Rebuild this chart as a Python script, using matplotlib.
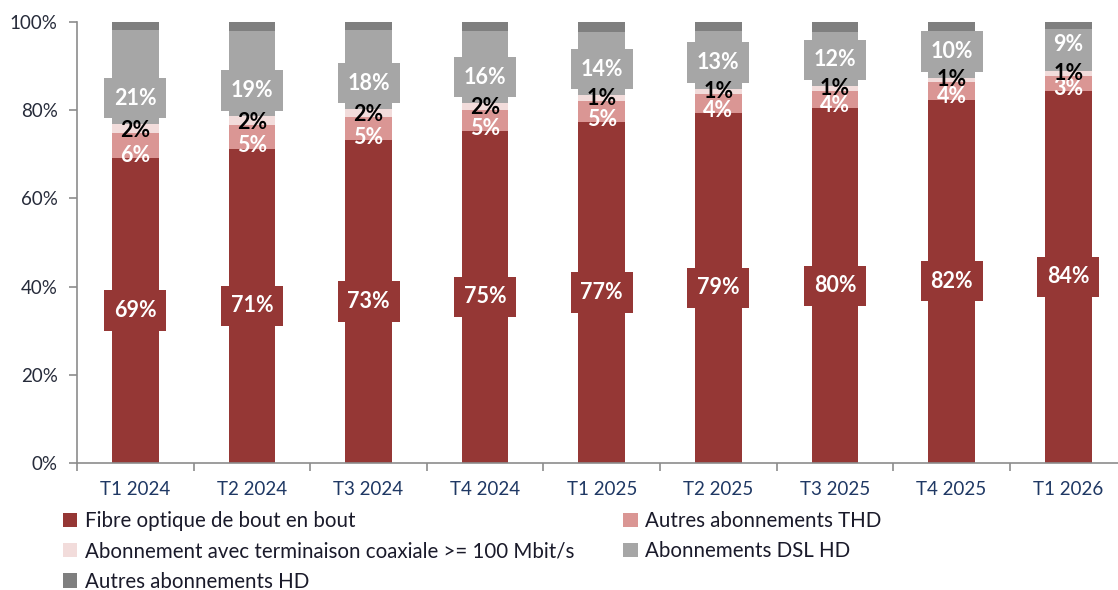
import matplotlib
matplotlib.use("Agg")
import matplotlib.pyplot as plt
import numpy as np

plt.rcParams['font.family'] = ['Lato', 'DejaVu Sans']

categories = ["T1 2024", "T2 2024", "T3 2024", "T4 2024", "T1 2025",
              "T2 2025", "T3 2025", "T4 2025", "T1 2026"]
fibre = [69.2, 71.3, 73.2, 75.3, 77.4, 79.4, 80.4, 82.4, 84.4]
autres_thd = [5.6, 5.3, 5.3, 4.8, 4.6, 4.2, 4.0, 3.9, 3.4]
coax = [2.0, 2.0, 1.7, 1.5, 1.4, 1.3, 1.1, 1.1, 1.2]
dsl = [21.3, 19.4, 18.0, 16.4, 14.4, 13.0, 12.3, 10.4, 9.4]
autres_hd = [1.9, 2.0, 1.8, 2.0, 2.2, 2.1, 2.2, 2.2, 1.6]
# DSL label drawn with a filled box (the last one has none in the source)
dsl_label_box = [True, True, True, True, True, True, True, True, False]

series_names = ["Fibre optique de bout en bout", "Autres abonnements THD",
                "Abonnement avec terminaison coaxiale >= 100 Mbit/s",
                "Abonnements DSL HD", "Autres abonnements HD"]
series_vals = [fibre, autres_thd, coax, dsl, autres_hd]
colors = ["#953735", "#DA9694", "#F2DCDB", "#A6A6A6", "#7F7F7F"]

W, H = 1118, 590
fig = plt.figure(figsize=(W / 100, H / 100), dpi=100)
ax = fig.add_axes([77 / W, (H - 463) / H, (1126.5 - 77) / W, (463 - 22) / H])

x = np.arange(len(categories))
bw = 0.40
lfs = 15.5
bottom = np.zeros(len(categories))
handles = []
for name, vals, col in zip(series_names, series_vals, colors):
    v = np.array(vals)
    b = ax.bar(x, v, bw, bottom=bottom, color=col, label=name, zorder=2)
    handles.append(b)
    for i in range(len(x)):
        lab = f"{v[i]:.0f}%"
        if name.startswith("Fibre"):
            ax.text(x[i], bottom[i] + v[i] / 2, lab, ha='center', va='center',
                    color='white', fontsize=lfs, fontweight='bold', zorder=4,
                    bbox=dict(boxstyle='square,pad=0.45', fc=col, ec='none'))
        elif name.startswith("Autres abonnements THD"):
            ax.text(x[i], bottom[i] + 0.6, lab, ha='center', va='center',
                    color='white', fontsize=lfs, fontweight='bold', zorder=5)
        elif name.startswith("Abonnement avec"):
            ax.text(x[i], bottom[i] + 0.6, lab, ha='center', va='center',
                    color='black', fontsize=lfs, fontweight='bold', zorder=6)
        elif name.startswith("Abonnements DSL"):
            bb = (dict(boxstyle='square,pad=0.45', fc=col, ec='none')
                  if dsl_label_box[i] else None)
            ax.text(x[i], bottom[i] + 5.9, lab, ha='center', va='center',
                    color='white', fontsize=lfs, fontweight='bold', zorder=4,
                    bbox=bb)
    bottom += v

ax.set_xlim(-0.5, len(categories) - 0.5)
ax.set_ylim(0, 100)
ax.set_yticks(np.arange(0, 101, 20))
ax.set_yticklabels([f"{t}%" for t in range(0, 101, 20)])
ax.set_xticks(x)
ax.set_xticklabels(categories)
ax.set_xticks(np.arange(-0.5, len(categories), 1.0), minor=True)

for s in ['top', 'right']:
    ax.spines[s].set_visible(False)
for s in ['left', 'bottom']:
    ax.spines[s].set_color('#8C8C8C')
    ax.spines[s].set_linewidth(1.2)

ax.tick_params(axis='y', length=6, width=1.2, color='#8C8C8C', pad=8,
               labelsize=13.5, labelcolor='#262B3A')
ax.tick_params(axis='x', which='major', length=0, pad=13,
               labelsize=13.5, labelcolor='#1F3864')
ax.tick_params(axis='x', which='minor', length=6, width=1.2, color='#8C8C8C')

order = [0, 2, 4, 1, 3]
leg = fig.legend([handles[i] for i in order], [series_names[i] for i in order],
                 loc='upper left', bbox_to_anchor=(63 / W, 1 - 511 / H),
                 ncol=2, frameon=False, fontsize=14.8, handlelength=0.7,
                 handleheight=0.7, handletextpad=0.35, columnspacing=2.4,
                 labelspacing=0.5, borderaxespad=0, borderpad=0)
for t in leg.get_texts():
    t.set_color('#1A1A2A')

fig.savefig("out.png", dpi=100)
